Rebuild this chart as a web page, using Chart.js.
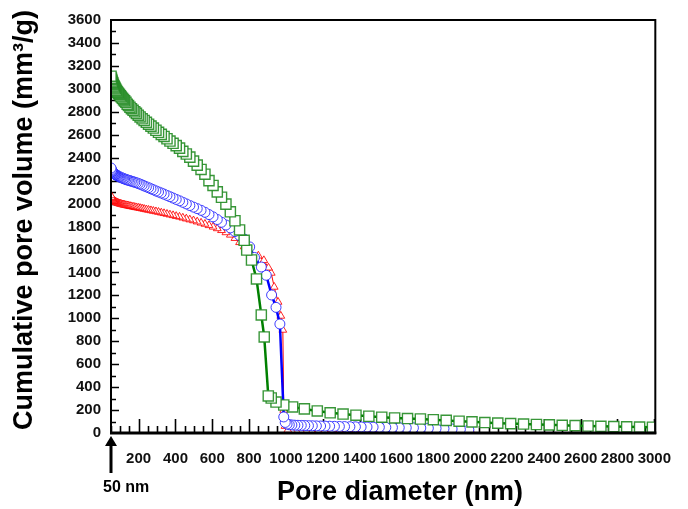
<!DOCTYPE html>
<html>
<head>
<meta charset="utf-8">
<script src="https://cdn.jsdelivr.net/npm/chart.js@4.4.0/dist/chart.umd.min.js"></script>
<style>
  html, body { margin: 0; padding: 0; background: #fff; }
  canvas { display: block; }
</style>
</head>
<body>
<canvas id="poreChart" width="688" height="509"></canvas>
<script>
// tick labels
const xTickValues = [200, 400, 600, 800, 1000, 1200, 1400, 1600, 1800, 2000, 2200, 2400, 2600, 2800, 3000];
const yTickValues = [0, 200, 400, 600, 800, 1000, 1200, 1400, 1600, 1800, 2000, 2200, 2400, 2600, 2800, 3000, 3200, 3400, 3600];

// green squares (largest pore volume)
const greenX = [50, 52, 54, 56, 58, 60, 63, 66, 69, 72, 75, 79, 83, 87, 91, 96, 101, 106, 112, 118,
  124, 131, 138, 145, 153, 161, 170, 179, 188, 198, 208, 219, 230, 242, 254, 267, 280, 294, 308, 323,
  338, 354, 370, 387, 404, 422, 440, 459, 478, 498, 518, 539, 560, 582, 604, 627, 650, 674, 698, 723,
  748, 773, 787, 813, 840, 866, 882, 904, 920, 946, 988,
  1036, 1100, 1170, 1240, 1310, 1380, 1450, 1520, 1590, 1660, 1730, 1800, 1870, 1940, 2010, 2080,
  2150, 2220, 2290, 2360, 2430, 2500, 2570, 2640, 2710, 2780, 2850, 2920, 2990];
const greenY = [3110, 3093, 3080, 3068, 3058, 3050, 3038, 3027, 3017, 3007, 2998, 2987, 2977, 2968, 2960, 2950, 2939, 2929, 2918, 2906,
  2895, 2883, 2866, 2854, 2840, 2827, 2813, 2800, 2786, 2770, 2755, 2739, 2724, 2708, 2692, 2675, 2658, 2639, 2621, 2603,
  2585, 2565, 2545, 2525, 2505, 2483, 2455, 2432, 2405, 2370, 2335, 2297, 2256, 2200, 2158, 2102, 2055, 1995, 1928, 1850,
  1770, 1680, 1595, 1508, 1343, 1029, 837, 323, 305, 270, 244,
  227, 210, 192, 176, 165, 155, 146, 138, 131, 126, 122, 116, 110, 103, 97, 91,
  86, 82, 78, 74, 71, 67, 64, 61, 58, 56, 54, 52, 50];

// blue circles
const blueX = [50, 52, 54, 56, 58, 60, 63, 66, 69, 72, 75, 79, 83, 87, 91, 96, 101, 106, 112, 118,
  124, 131, 138, 145, 153, 161, 170, 179, 188, 198, 208, 219, 230, 242, 254, 267, 280, 294, 308, 323,
  338, 354, 370, 387, 404, 422, 440, 459, 478, 498, 518, 539, 560, 582, 604, 627, 650, 674, 698, 723,
  748, 773, 803, 829, 866, 893, 922, 946, 967,
  988, 996, 1006, 1018, 1032, 1048, 1065, 1083, 1102, 1122, 1143, 1165, 1188, 1212, 1237, 1263, 1290,
  1318, 1347, 1377, 1408, 1440, 1473, 1507, 1542, 1578, 1615, 1653, 1692, 1732, 1773, 1815, 1858, 1902,
  1947, 1993, 2040];
const blueY = [2310, 2298, 2290, 2283, 2278, 2274, 2268, 2263, 2259, 2255, 2252, 2248, 2244, 2241, 2237, 2233, 2230, 2226, 2222, 2218,
  2214, 2210, 2206, 2203, 2199, 2195, 2190, 2186, 2181, 2175, 2169, 2162, 2154, 2146, 2138, 2129, 2120, 2110, 2101, 2092,
  2082, 2071, 2060, 2048, 2036, 2024, 2011, 1997, 1983, 1969, 1956, 1941, 1924, 1904, 1884, 1861, 1837, 1813, 1788, 1756,
  1722, 1690, 1622, 1530, 1447, 1375, 1203, 1095, 950,
  140, 92, 78, 72, 70, 68, 67, 66, 65, 64, 63, 62, 61, 60, 59, 58, 57,
  56, 55, 54, 53, 52, 51, 50, 49, 48, 47, 46, 45, 44, 42, 40, 38,
  35, 32, 28];

// red triangles
const redX = [50, 52, 54, 56, 58, 60, 63, 66, 69, 72, 75, 79, 83, 87, 91, 96, 101, 106, 112, 118,
  124, 131, 138, 145, 153, 161, 170, 179, 188, 198, 208, 219, 230, 242, 254, 267, 280, 294, 308, 323,
  338, 354, 370, 387, 404, 422, 440, 459, 478, 498, 518, 539, 560, 582, 604, 627, 650, 674, 698, 723,
  748, 773, 800, 850, 880, 905, 920, 936, 957, 972, 983, 988, 995,
  1010, 1030, 1055, 1080, 1110, 1140, 1175, 1210, 1250, 1290, 1330, 1375, 1420, 1470, 1520, 1570,
  1620, 1680, 1740, 1800, 1870, 1940, 2010];
const redY = [2070, 2055, 2046, 2040, 2035, 2032, 2028, 2024, 2020, 2017, 2014, 2011, 2008, 2005, 2002, 2000, 1997, 1995, 1992, 1990,
  1988, 1985, 1983, 1980, 1978, 1975, 1972, 1969, 1966, 1963, 1960, 1956, 1952, 1948, 1944, 1940, 1935, 1931, 1926, 1920,
  1915, 1909, 1903, 1897, 1890, 1884, 1876, 1868, 1860, 1852, 1842, 1832, 1822, 1810, 1797, 1783, 1767, 1748, 1727, 1698,
  1662, 1625, 1590, 1545, 1505, 1440, 1395, 1273, 1142, 1020, 898, 200, 60,
  26, 24, 22, 21, 20, 19, 18, 17, 16, 15, 14, 13, 12, 11, 10, 9,
  8, 7, 6, 5, 4, 3, 2];

// measured from large to small pores, so points are drawn right to left
function toPoints(xs, ys) {
  return xs.map((v, i) => ({ x: v, y: ys[i] })).reverse();
}

const fontFamily = 'Arial, "Liberation Sans", sans-serif';
Chart.defaults.font.family = fontFamily;

// inward tick marks, frame, axis titles and the "50 nm" arrow
const frameAndTicks = {
  id: 'frameAndTicks',
  beforeDatasetsDraw(chart) {
    const { ctx, chartArea: a, scales: { x, y } } = chart;
    ctx.save();
    ctx.strokeStyle = '#000';
    ctx.lineWidth = 1.6;
    ctx.beginPath();
    for (let v = 50; v <= 3000; v += 50) {
      const px = Math.round(x.getPixelForValue(v)) + 0.5;
      const len = v % 200 === 0 ? 14 : 7;
      ctx.moveTo(px, a.bottom);
      ctx.lineTo(px, a.bottom - len);
    }
    for (let v = 100; v < 3600; v += 100) {
      const py = Math.round(y.getPixelForValue(v)) + 0.5;
      const len = v % 200 === 0 ? 8 : 5;
      ctx.moveTo(a.left, py);
      ctx.lineTo(a.left + len, py);
    }
    ctx.stroke();
    ctx.restore();
  },
  afterDraw(chart) {
    const { ctx, chartArea: a, scales: { x } } = chart;
    ctx.save();
    ctx.strokeStyle = '#000';
    ctx.lineWidth = 2;
    ctx.strokeRect(a.left, a.top, a.right - a.left + 1, a.bottom - a.top);
    ctx.lineWidth = 3;
    ctx.beginPath();
    ctx.moveTo(a.left - 1, a.bottom);
    ctx.lineTo(a.right + 2, a.bottom);
    ctx.stroke();

    // arrow pointing at 50 nm
    const ax = x.getPixelForValue(50);
    ctx.lineWidth = 3;
    ctx.beginPath();
    ctx.moveTo(ax, a.bottom + 40);
    ctx.lineTo(ax, a.bottom + 10);
    ctx.stroke();
    ctx.fillStyle = '#000';
    ctx.beginPath();
    ctx.moveTo(ax, a.bottom + 3);
    ctx.lineTo(ax - 6, a.bottom + 13);
    ctx.lineTo(ax + 6, a.bottom + 13);
    ctx.closePath();
    ctx.fill();

    ctx.font = 'bold 16px ' + fontFamily;
    ctx.textAlign = 'left';
    ctx.textBaseline = 'middle';
    ctx.fillText('50 nm', ax - 8, a.bottom + 55);

    // axis titles
    ctx.font = 'bold 27px ' + fontFamily;
    ctx.textAlign = 'center';
    ctx.fillText('Pore diameter (nm)', 400, 493);
    ctx.translate(25, 220);
    ctx.rotate(-Math.PI / 2);
    ctx.fillText('Cumulative pore volume (mm³/g)', 0, 0);
    ctx.restore();
  }
};

const ctx = document.getElementById('poreChart').getContext('2d');

const poreChart = new Chart(ctx, {
  type: 'scatter',
  data: {
    datasets: [
      {
        label: 'green',
        data: toPoints(greenX, greenY),
        showLine: true,
        borderColor: '#008000',
        borderWidth: 2.5,
        pointStyle: 'rect',
        pointRadius: 7.2,
        pointBorderWidth: 1.4,
        pointBorderColor: 'rgba(34,139,34,0.9)',
        pointBackgroundColor: '#fff'
      },
      {
        label: 'blue',
        data: toPoints(blueX, blueY),
        showLine: true,
        borderColor: '#0000ff',
        borderWidth: 2.5,
        pointStyle: 'circle',
        pointRadius: 5,
        pointBorderWidth: 1,
        pointBorderColor: 'rgba(30,30,255,0.85)',
        pointBackgroundColor: '#fff'
      },
      {
        label: 'red',
        data: toPoints(redX, redY),
        showLine: true,
        borderColor: '#ff0000',
        borderWidth: 1,
        pointStyle: 'triangle',
        pointRadius: 4.5,
        pointBorderWidth: 1,
        pointBorderColor: 'rgba(255,0,0,0.85)',
        pointBackgroundColor: '#fff'
      }
    ]
  },
  options: {
    responsive: false,
    animation: false,
    devicePixelRatio: 1,
    layout: { padding: { top: 20, right: 20, left: 0, bottom: 0 } },
    plugins: {
      legend: { display: false },
      tooltip: { enabled: false }
    },
    scales: {
      x: {
        type: 'linear',
        min: 50,
        max: 3000,
        afterBuildTicks: s => { s.ticks = xTickValues.map(v => ({ value: v })); },
        afterFit: s => { s.height = 76; },
        grid: { display: false, drawTicks: false },
        border: { display: false },
        ticks: {
          autoSkip: false,
          maxRotation: 0,
          padding: 17,
          color: '#111',
          font: { size: 15, weight: 'bold' },
          callback: v => String(v)
        }
      },
      y: {
        type: 'linear',
        min: 0,
        max: 3600,
        afterBuildTicks: s => { s.ticks = yTickValues.map(v => ({ value: v })); },
        afterFit: s => { s.width = 111; },
        grid: { display: false, drawTicks: false },
        border: { display: false },
        ticks: {
          padding: 10,
          color: '#111',
          font: { size: 15, weight: 'bold' },
          callback: v => String(v)
        }
      }
    }
  },
  plugins: [frameAndTicks]
});
</script>
</body>
</html>
